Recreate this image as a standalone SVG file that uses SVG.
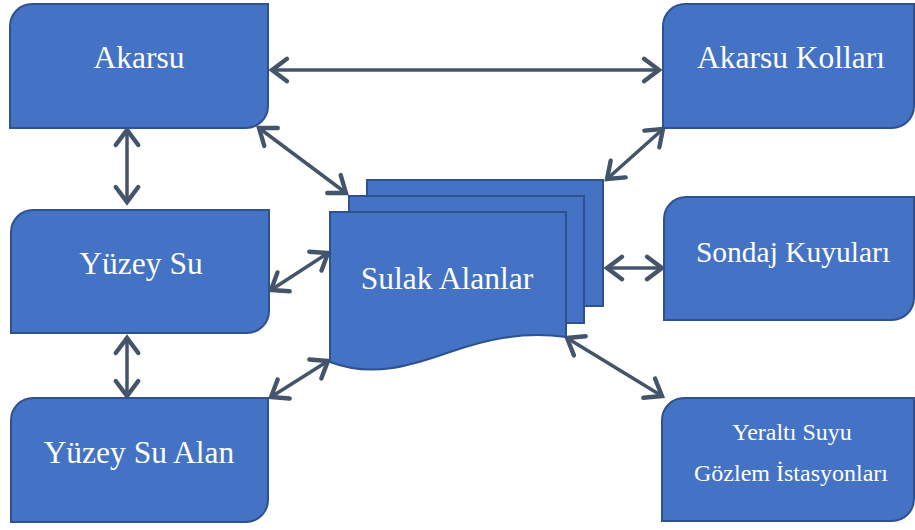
<svg xmlns="http://www.w3.org/2000/svg" width="915" height="530" viewBox="0 0 915 530">
<style>
.box{fill:#4472C4;stroke:#2F528F;stroke-width:2}
.lbl{fill:#FFFFFF;font-family:"Liberation Serif","Times New Roman",serif;font-size:31.5px;text-anchor:middle}
.sm{font-size:24px}
.md{font-size:29.5px}
.con{stroke:#44546A;stroke-width:3.5;fill:none;marker-start:url(#ah);marker-end:url(#ah)}
</style>
<defs>
<marker id="ah" markerUnits="userSpaceOnUse" markerWidth="30" markerHeight="30" viewBox="-16 -12 20 24" refX="0" refY="0" orient="auto-start-reverse" overflow="visible">
<path d="M-12,-9 L0,0 L-12,9" fill="none" stroke="#44546A" stroke-width="3.5" stroke-linecap="round" stroke-linejoin="miter"/>
</marker>
</defs>
<rect width="915" height="530" fill="#FFFFFF"/>
<g id="connectors">
<line class="con" x1="272" y1="70" x2="659" y2="70"/>
<line class="con" x1="127" y1="130" x2="127" y2="202"/>
<line class="con" x1="127" y1="338" x2="127" y2="396"/>
<line class="con" x1="259" y1="128" x2="346" y2="193"/>
<line class="con" x1="271" y1="290" x2="328" y2="253"/>
<line class="con" x1="271" y1="397" x2="328" y2="361"/>
<line class="con" x1="663" y1="129" x2="607" y2="179"/>
<line class="con" x1="607" y1="268" x2="662" y2="268"/>
<line class="con" x1="567" y1="338" x2="662" y2="396"/>
</g>
<g id="akarsu">
<path class="box" d="M32,4 H268 V106 A22,22 0 0 1 246,128 H10 V26 A22,22 0 0 1 32,4 Z"/>
<text class="lbl" x="139" y="68">Akarsu</text>
</g>
<g id="akarsu-kollari">
<path class="box" d="M685,4 H914 V106 A22,22 0 0 1 892,128 H663 V26 A22,22 0 0 1 685,4 Z"/>
<text class="lbl" x="791" y="68">Akarsu Kolları</text>
</g>
<g id="yuzey-su">
<path class="box" d="M33,210 H269 V311 A22,22 0 0 1 247,333 H11 V232 A22,22 0 0 1 33,210 Z"/>
<text class="lbl" x="141" y="274">Yüzey Su</text>
</g>
<g id="sondaj-kuyulari">
<path class="box" d="M686,197 H914 V298 A22,22 0 0 1 892,320 H664 V219 A22,22 0 0 1 686,197 Z"/>
<text class="lbl md" x="793" y="262">Sondaj Kuyuları</text>
</g>
<g id="yuzey-su-alan">
<path class="box" d="M33,398 H268 V500 A22,22 0 0 1 246,522 H11 V420 A22,22 0 0 1 33,398 Z"/>
<text class="lbl" x="139" y="463">Yüzey Su Alan</text>
</g>
<g id="yeralti-suyu">
<path class="box" d="M684,398 H914 V499 A22,22 0 0 1 892,521 H662 V420 A22,22 0 0 1 684,398 Z"/>
<text class="lbl sm" x="792" y="440">Yeraltı Suyu</text>
<text class="lbl sm" x="791" y="481">Gözlem İstasyonları</text>
</g>
<g id="sulak-alanlar">
<rect class="box" x="367" y="180" width="236" height="126"/>
<rect class="box" x="349" y="196" width="235" height="127"/>
<path class="box" d="M330,212 H566 V337 C520,331 485,340 450,352 C410,366 372,378 330,362 Z"/>
<text class="lbl" x="447" y="289">Sulak Alanlar</text>
</g>
</svg>
